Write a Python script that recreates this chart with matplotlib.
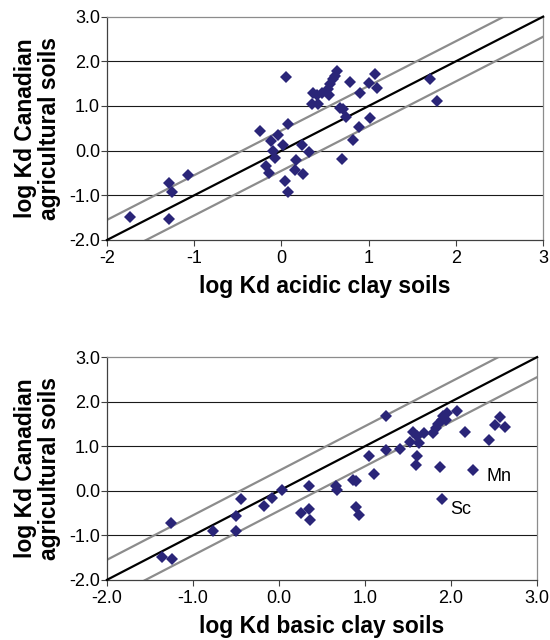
import numpy as np
import matplotlib
matplotlib.use("Agg")
import matplotlib.pyplot as plt

plt.rcParams['font.family'] = ['Liberation Sans', 'DejaVu Sans']

# log Kd values: acidic clay soils (x) vs Canadian agricultural soils (y)
acid_x = [-1.74, -1.29, -1.29, -1.26, -1.07,
          0.056, -0.24, -0.12, -0.036, 0.08, 0.018, -0.10, -0.07, -0.18, -0.14,
          0.04, 0.08, 0.17, 0.16, 0.25, 0.24, 0.32,
          0.354, 0.42, 0.36, 0.41, 0.47, 0.54, 0.53, 0.56, 0.59, 0.64, 0.61,
          0.79, 0.905, 1.00, 1.07, 1.09,
          0.67, 0.71, 0.74, 0.89, 1.02, 0.82, 0.69, 1.70, 1.78]
acid_y = [-1.48, -1.53, -0.72, -0.92, -0.55,
          1.65, 0.44, 0.21, 0.35, 0.59, 0.12, -0.01, -0.16, -0.34, -0.50,
          -0.68, -0.92, -0.22, -0.43, -0.53, 0.12, -0.03,
          1.05, 1.05, 1.30, 1.24, 1.30, 1.24, 1.39, 1.50, 1.60, 1.78, 1.68,
          1.54, 1.30, 1.51, 1.71, 1.41,
          0.95, 0.93, 0.75, 0.54, 0.74, 0.23, -0.19, 1.61, 1.11]

# log Kd values: basic clay soils (x) vs Canadian agricultural soils (y)
basic_x = [-1.36, -1.24, -1.25, -0.77, -0.50, -0.50, -0.445, -0.17, -0.08, 0.035,
           0.345, 0.25, 0.345, 0.36, 0.66, 0.67, 0.865, 0.89, 0.895, 0.93,
           1.05, 1.10, 1.24, 1.24, 1.41, 1.52, 1.56, 1.60, 1.63, 1.68,
           1.60, 1.59, 1.79, 1.82, 1.85, 1.89, 1.91, 1.94, 1.95, 2.07,
           2.16, 1.87, 2.25, 1.90, 2.44, 2.51, 2.57, 2.63]
basic_y = [-1.48, -1.53, -0.73, -0.91, -0.91, -0.56, -0.18, -0.34, -0.17, 0.01,
           0.11, -0.51, -0.41, -0.66, 0.11, 0.01, 0.25, 0.23, -0.36, -0.54,
           0.79, 0.37, 0.91, 1.67, 0.94, 1.10, 1.33, 1.22, 1.07, 1.30,
           0.77, 0.58, 1.30, 1.41, 1.50, 1.58, 1.67, 1.59, 1.74, 1.80,
           1.31, 0.53, 0.46, -0.18, 1.13, 1.47, 1.65, 1.43]

# 1:1 line and the +/- band around it
band = 0.45
line_x = [-2.0, 3.0]

acid_xticks = [-2, -1, 0, 1, 2, 3]
acid_xlabels = ['-2', '-1', '0', '1', '2', '3']
basic_xticks = [-2, -1, 0, 1, 2, 3]
basic_xlabels = ['-2.0', '-1.0', '0.0', '1.0', '2.0', '3.0']
yticks = [-2, -1, 0, 1, 2, 3]
ylabels = ['-2.0', '-1.0', '0.0', '1.0', '2.0', '3.0']

marker_color = '#2a2578'
band_color = '#8c8c8c'


def draw_panel(ax, xs, ys, xticks, xlabels, xlabel):
    ax.set_xlim(-2, 3)
    ax.set_ylim(-2, 3)
    for y in [-1, 0, 1, 2]:
        ax.axhline(y, color='#1a1a1a', lw=0.8, zorder=1)
    lx = np.array(line_x)
    ax.plot(lx, lx + band, color=band_color, lw=1.6, zorder=2)
    ax.plot(lx, lx - band, color=band_color, lw=1.6, zorder=2)
    ax.plot(lx, lx, color='black', lw=1.6, zorder=3, clip_on=False)
    ax.plot(xs, ys, 'D', color=marker_color, ms=5.8, mew=0, zorder=4)

    ax.set_xticks(xticks)
    ax.set_xticklabels(xlabels)
    ax.set_yticks(yticks)
    ax.set_yticklabels(ylabels)
    ax.tick_params(direction='out', length=4, width=0.8, color='#404040',
                   labelsize=13, pad=1)
    ax.tick_params(axis='x', pad=3)
    ax.spines['left'].set_color('#404040')
    ax.spines['bottom'].set_color('#404040')
    ax.spines['right'].set_color('#8c8c8c')
    ax.spines['top'].set_color('#8c8c8c')
    for s in ax.spines.values():
        s.set_linewidth(0.9)
    ax.set_xlabel(xlabel, fontsize=16.5, fontweight='bold', labelpad=6)
    ax.set_ylabel('log Kd Canadian\nagricultural soils', fontsize=16.5,
                  fontweight='bold', labelpad=6, linespacing=1.05)


fig = plt.figure(figsize=(5.5, 6.4), dpi=100)

ax1 = fig.add_axes([0.1945, 0.625, 0.793, 0.349])
draw_panel(ax1, acid_x, acid_y, acid_xticks, acid_xlabels,
           'log Kd acidic clay soils')

ax2 = fig.add_axes([0.1945, 0.094, 0.782, 0.348])
draw_panel(ax2, basic_x, basic_y, basic_xticks, basic_xlabels,
           'log Kd basic clay soils')
ax2.text(2.41, 0.32, 'Mn', fontsize=13, va='center', ha='left')
ax2.text(1.99, -0.42, 'Sc', fontsize=13, va='center', ha='left')

fig.savefig('out.png', dpi=100)
